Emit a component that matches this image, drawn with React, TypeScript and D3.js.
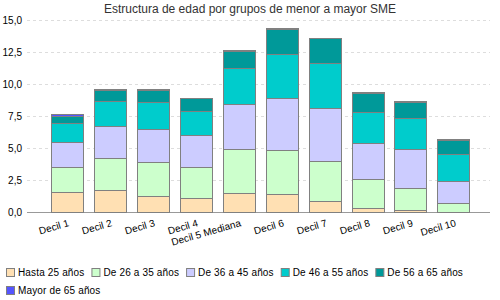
import React, { useEffect, useRef } from "react";
import * as d3 from "d3";

const categories = ["Decil 1", "Decil 2", "Decil 3", "Decil 4", "Decil 5 Mediana", "Decil 6", "Decil 7", "Decil 8", "Decil 9", "Decil 10"];
const seriesNames = ["Hasta 25 años", "De 26 a 35 años", "De 36 a 45 años", "De 46 a 55 años", "De 56 a 65 años", "Mayor de 65 años"];
const hasta25 = [1.56, 1.72, 1.30, 1.09, 1.48, 1.41, 0.88, 0.31, 0.18, 0.06];
const de26a35 = [2.00, 2.50, 2.61, 2.43, 3.44, 3.43, 3.10, 2.27, 1.70, 0.64];
const de36a45 = [1.96, 2.50, 2.62, 2.50, 3.52, 4.06, 4.14, 2.81, 3.05, 1.77];
const de46a55 = [1.43, 1.98, 2.06, 1.88, 2.81, 3.44, 3.52, 2.42, 2.42, 2.06];
const de56a65 = [0.60, 0.83, 0.94, 0.98, 1.37, 1.98, 1.92, 1.49, 1.25, 1.10];
const mayor65 = [0.1, 0.05, 0.05, 0.05, 0.05, 0.05, 0.05, 0.05, 0.05, 0.05];
const yTicks = [0, 2.5, 5, 7.5, 10, 12.5, 15];
const colors = ["#FFE0B3", "#CCFFCC", "#CCCCFF", "#00CCCC", "#009999", "#5555FF"];

const W = 500, H = 300;
const FONT = "'Liberation Sans', Arial, sans-serif";

export default function App() {
  const ref = useRef<SVGSVGElement>(null);
  useEffect(() => {
    const svg = d3.select(ref.current);
    svg.selectAll("*").remove();
    const series = [hasta25, de26a35, de36a45, de46a55, de56a65, mayor65];
    const rows = categories.map((c, i) => {
      const r: any = { cat: c };
      seriesNames.forEach((s, j) => (r[s] = series[j][i]));
      return r;
    });
    const stacked = d3.stack().keys(seriesNames)(rows);

    const x = d3.scaleBand().domain(categories).range([30, 490]).paddingInner(0.256).paddingOuter(0.477);
    const y = d3.scaleLinear().domain([0, 15]).range([212.3, 20]);

    svg.append("text").attr("x", 250).attr("y", 13).attr("text-anchor", "middle")
      .attr("font-family", FONT).attr("font-size", 12).attr("fill", "#333").text("Estructura de edad por grupos de menor a mayor SME");

    const g = svg.append("g");
    yTicks.forEach((t) => {
      g.append("line").attr("x1", 27).attr("x2", 490).attr("y1", Math.round(y(t)) + 0.5).attr("y2", Math.round(y(t)) + 0.5)
        .attr("stroke", t === 0 ? "#999" : "#ddd").attr("stroke-dasharray", t === 0 ? null : "3,3").attr("stroke-width", 1);
      g.append("text").attr("x", 22).attr("y", y(t) + 4).attr("text-anchor", "end")
        .attr("font-family", FONT).attr("font-size", 10).attr("fill", "#000")
        .text(d3.format(".1f")(t).replace(".", ","));
    });

    stacked.forEach((layer, j) => {
      g.selectAll(null).data(layer).enter().append("rect")
        .attr("x", (d: any) => Math.round(x(d.data.cat)!) + 0.5)
        .attr("y", (d: any) => Math.round(y(d[1])) + 0.5)
        .attr("width", Math.round(x.bandwidth()))
        .attr("height", (d: any) => Math.max(0, Math.round(y(d[0])) - Math.round(y(d[1]))))
        .attr("fill", colors[j]).attr("stroke", "#808080").attr("stroke-width", 1);
    });

    categories.forEach((c) => {
      const cx = x(c)! + x.bandwidth() / 2 + 3;
      g.append("text").attr("transform", `translate(${cx},226) rotate(-16)`).attr("text-anchor", "end")
        .attr("font-family", FONT).attr("font-size", 10).attr("fill", "#000").text(c);
    });

    // legend
    let lx = 6, ly = 268;
    seriesNames.forEach((s, j) => {
      const item = svg.append("g");
      item.append("rect").attr("x", 0.5).attr("y", 0.5).attr("width", 8).attr("height", 8)
        .attr("fill", colors[j]).attr("stroke", "#808080");
      const t = item.append("text").attr("x", 12).attr("y", 8).attr("font-family", FONT).attr("font-size", 10)
        .attr("fill", "#000").attr("letter-spacing", 0.15).text(s);
      const w = 12 + (t.node() as SVGTextElement).getComputedTextLength() + 7;
      if (lx + w > 495) { lx = 6; ly += 18; }
      item.attr("transform", `translate(${lx},${ly})`);
      lx += w;
    });
  }, []);
  return <svg ref={ref} width={W} height={H} style={{ position: "absolute", left: 0, top: 0, background: "#fff" }} />;
}
